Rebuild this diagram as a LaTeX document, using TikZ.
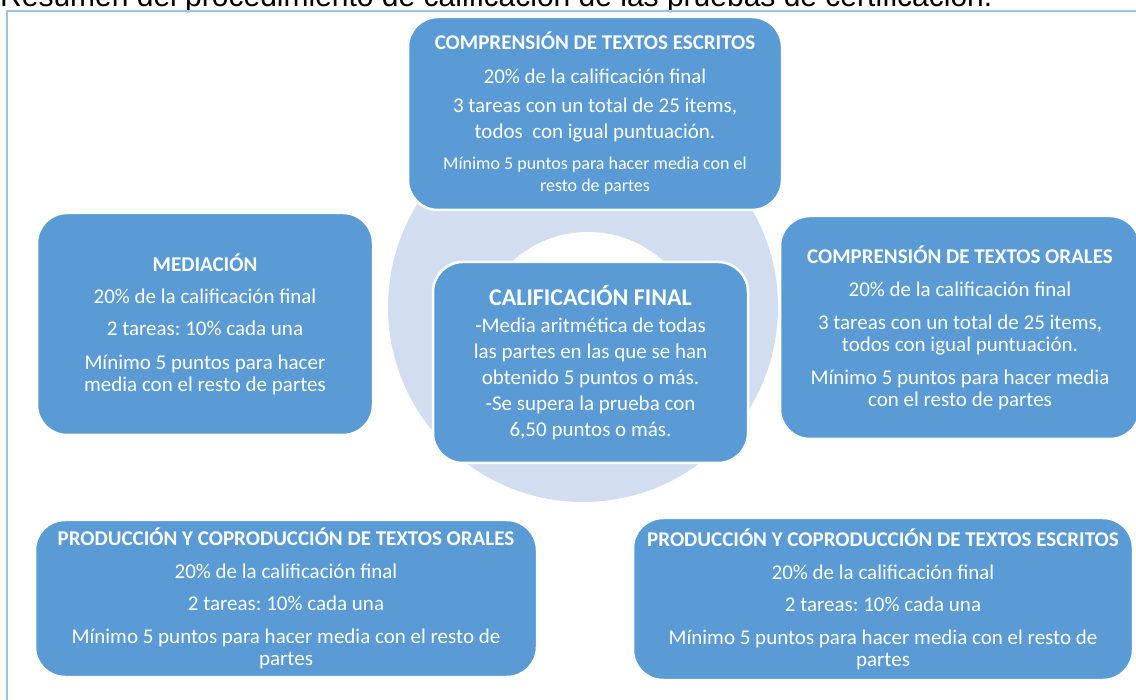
\documentclass[tikz,border=0pt]{standalone}
\usepackage{fontspec}
\setmainfont{Carlito}
\newfontfamily\arialfont{Liberation Sans}
\frenchspacing
\definecolor{boxblue}{HTML}{5B9BD5}
\definecolor{ringblue}{HTML}{D2DEEF}
\definecolor{framebl}{HTML}{9DC3E6}
\newcommand{\bsz}{\fontsize{21}{22}\selectfont}
\newcommand{\ssz}{\fontsize{18}{22}\selectfont}
\newcommand{\tsz}{\fontsize{24}{22}\selectfont}
\begin{document}
\begin{tikzpicture}[x=1pt,y=-1pt,
  box/.style={rounded corners=30pt, fill=boxblue, draw=white, line width=2.5pt,
    text=white, align=center, inner sep=0pt, font=\bsz\frenchspacing}
]
\useasboundingbox (0,0) rectangle (1136,700);
\clip (0,0) rectangle (1136,700);
\node[anchor=base west, inner sep=0pt, font=\arialfont\fontsize{30}{36}\selectfont] (title) at (0,7)
  {Resumen del procedimiento de calificación de las pruebas de certificación.};
\draw[framebl, line width=2pt] (7,705) -- (7,11) -- (1140,11);
% ring
\fill[ringblue] (583,307) circle (195pt);
\fill[white] (588,344) circle (112pt);
% boxes
\node[box, minimum width=374pt, minimum height=193pt] (cte) at (595,113.5)
  {\textbf{COMPRENSIÓN DE TEXTOS ESCRITOS}\\[12pt]
   20\% de la calificación final\\[7pt]
   3 tareas con un total de 25 items,\\[4pt]
   todos\ \ con igual puntuación.\\[9pt]
   \ssz Mínimo 5 puntos para hacer media con el\\
   \ssz resto de partes};
\node[box, minimum width=336pt, minimum height=222pt] (med) at (205,324)
  {\textbf{MEDIACIÓN}\\[10pt]
   20\% de la calificación final\\[10pt]
   2 tareas: 10\% cada una\\[12pt]
   Mínimo 5 puntos para hacer\\
   media con el resto de partes};
\node[box, minimum width=360pt, minimum height=223pt] (cto) at (960,327.5)
  {\textbf{COMPRENSIÓN DE TEXTOS ORALES}\\[11pt]
   20\% de la calificación final\\[11pt]
   3 tareas con un total de 25 items,\\
   todos con igual puntuación.\\[11pt]
   Mínimo 5 puntos para hacer media\\
   con el resto de partes};
\node[box, minimum width=315pt, minimum height=201pt] (cen) at (590.5,362.5)
  {\tsz\textbf{CALIFICACIÓN FINAL}\\[5pt]
   -Media aritmética de todas\\[4pt]
   las partes en las que se han\\[4pt]
   obtenido 5 puntos o más.\\[4pt]
   -Se supera la prueba con\\[4pt]
   6,50 puntos o más.};
\node[box, minimum width=502pt, minimum height=157pt] (pcto) at (286,598.5)
  {\textbf{PRODUCCIÓN Y COPRODUCCIÓN DE TEXTOS ORALES}\\[11pt]
   20\% de la calificación final\\[10pt]
   2 tareas: 10\% cada una\\[11pt]
   Mínimo 5 puntos para hacer media con el resto de\\
   partes};
\node[box, minimum width=500pt, minimum height=162pt] (pcte) at (883,599)
  {\textbf{PRODUCCIÓN Y COPRODUCCIÓN DE TEXTOS ESCRITOS}\\[11pt]
   20\% de la calificación final\\[10pt]
   2 tareas: 10\% cada una\\[11pt]
   Mínimo 5 puntos para hacer media con el resto de\\
   partes};
\end{tikzpicture}
\end{document}
